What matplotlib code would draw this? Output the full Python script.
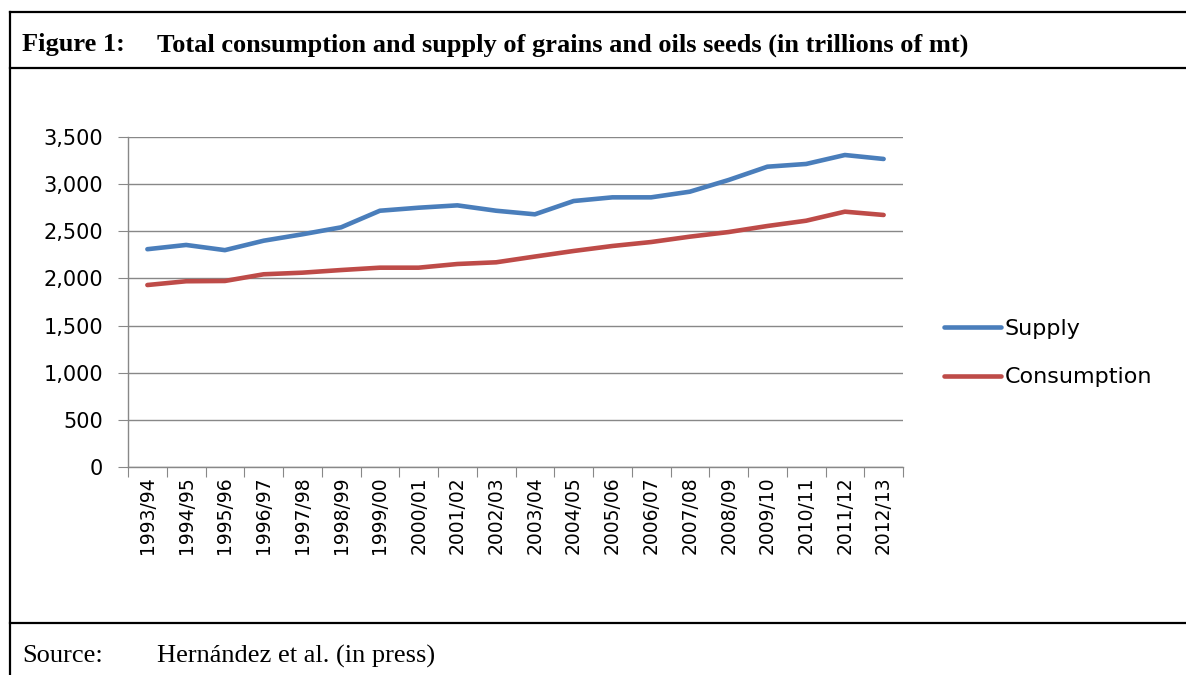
import numpy as np
import matplotlib
matplotlib.use('Agg')
import matplotlib.pyplot as plt
from matplotlib.lines import Line2D
from matplotlib.ticker import FuncFormatter, FixedLocator

seasons = ['1993/94', '1994/95', '1995/96', '1996/97', '1997/98', '1998/99',
           '1999/00', '2000/01', '2001/02', '2002/03', '2003/04', '2004/05',
           '2005/06', '2006/07', '2007/08', '2008/09', '2009/10', '2010/11',
           '2011/12', '2012/13']
supply = [2310, 2355, 2300, 2400, 2468, 2542, 2718, 2750, 2775, 2718,
          2680, 2821, 2860, 2860, 2920, 3044, 3185, 3214, 3309, 3267]
consumption = [1930, 1970, 1973, 2044, 2061, 2089, 2114, 2114, 2153, 2171,
               2232, 2291, 2344, 2386, 2443, 2492, 2556, 2612, 2708, 2673]

W, H = 1186, 675
BLUE = '#4A7EBB'
RED = '#BE4B48'
GRID = '#888888'
SANS = ['DejaVu Sans']
SERIF = ['Liberation Serif', 'DejaVu Serif']

fig = plt.figure(figsize=(W / 100, H / 100), dpi=100)


def fx(px):
    return px / W


def fy(py):
    return 1 - py / H


# frame of the figure box
for (x0, y0, x1, y1) in [(10, 12, W, 12), (10, 68, W, 68), (10, 623, W, 623), (10, 12, 10, H)]:
    fig.add_artist(Line2D([fx(x0), fx(x1)], [fy(y0), fy(y1)], color='black', lw=1.6))

fig.text(fx(22), fy(45), 'Figure 1:', family=SERIF, weight='bold', fontsize=19, va='center')
fig.text(fx(157), fy(45), 'Total consumption and supply of grains and oils seeds (in trillions of mt)',
         family=SERIF, weight='bold', fontsize=19, va='center')
fig.text(fx(22), fy(656), 'Source:', family=SERIF, fontsize=19, va='center')
fig.text(fx(157), fy(656), 'Hernández et al. (in press)', family=SERIF, fontsize=19, va='center')

ax = fig.add_axes([fx(128), fy(467), fx(903) - fx(128), fy(137) - fy(467)])
x = np.arange(len(seasons))
ax.plot(x, supply, color=BLUE, lw=3.3, label='Supply', solid_capstyle='round')
ax.plot(x, consumption, color=RED, lw=3.3, label='Consumption', solid_capstyle='round')

ax.set_xlim(-0.5, len(seasons) - 0.5)
ax.set_ylim(0, 3500)
ax.set_yticks(np.arange(0, 3501, 500))
ax.yaxis.set_major_formatter(FuncFormatter(lambda v, p: f'{int(v):,}'))
ax.grid(axis='y', color=GRID, lw=1)
ax.set_axisbelow(True)

ax.xaxis.set_major_locator(FixedLocator(np.arange(-0.5, len(seasons), 1)))
ax.xaxis.set_minor_locator(FixedLocator(x))
ax.set_xticklabels([])
ax.set_xticklabels(seasons, minor=True, rotation=90, family=SANS, fontsize=13.5)
ax.tick_params(axis='x', which='major', length=7, color=GRID, direction='out')
ax.tick_params(axis='x', which='minor', length=0, pad=7)
ax.tick_params(axis='y', length=7, color=GRID, labelsize=15, pad=11)
for lab in ax.get_yticklabels():
    lab.set_family(SANS)

for s in ['top', 'right']:
    ax.spines[s].set_visible(False)
for s in ['left', 'bottom']:
    ax.spines[s].set_color(GRID)
    ax.spines[s].set_linewidth(1)

fig.legend(loc='center left', bbox_to_anchor=(fx(924), fy(353)), frameon=False,
           prop={'family': SANS, 'size': 16}, handlelength=2.55, handletextpad=0.18,
           labelspacing=1.3)

fig.savefig('out.png', dpi=100)
